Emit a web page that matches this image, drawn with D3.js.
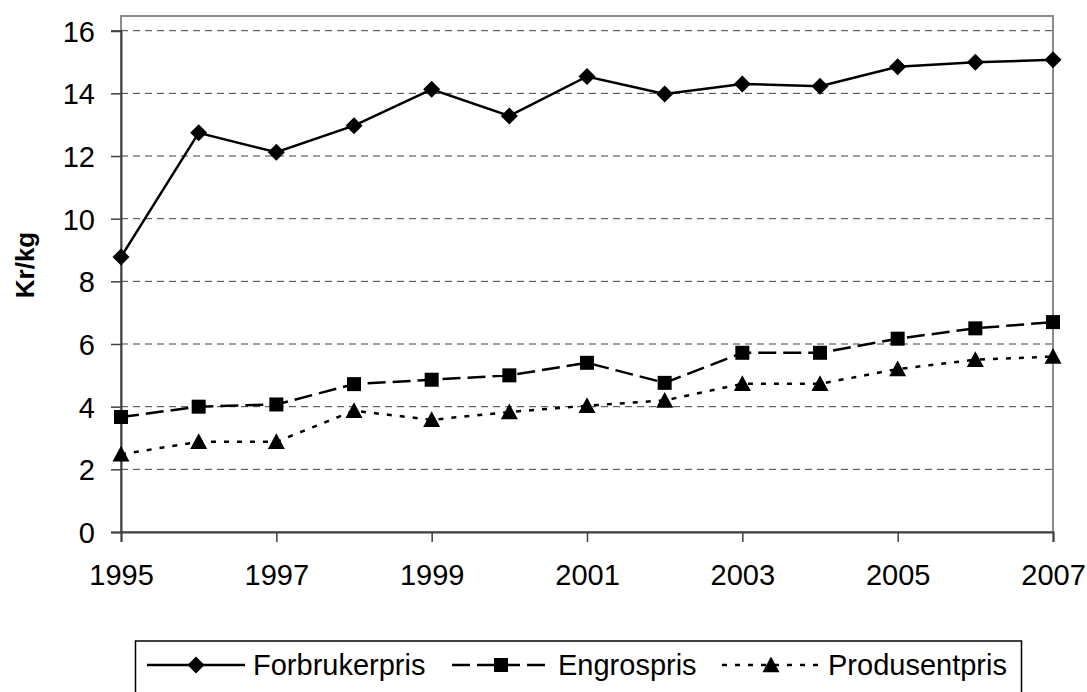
<!DOCTYPE html>
<html>
<head>
<meta charset="utf-8">
<script src="https://cdn.jsdelivr.net/npm/d3@7"></script>
<style>
  html, body { margin: 0; padding: 0; background: #fff; }
  svg { display: block; font-family: "Liberation Sans", Arial, sans-serif; }
</style>
</head>
<body>
<svg id="chart" width="1087" height="692"></svg>
<script>
const years = [1995,1996,1997,1998,1999,2000,2001,2002,2003,2004,2005,2006,2007];
const xTickLabels = [1995,1997,1999,2001,2003,2005,2007];
const yTickLabels = [0,2,4,6,8,10,12,14,16];
const forbrukerpris = [8.78,12.74,12.12,12.97,14.13,13.28,14.54,13.98,14.3,14.23,14.85,14.99,15.07];
const engrospris = [3.67,4.0,4.07,4.72,4.86,5.0,5.4,4.76,5.72,5.72,6.17,6.5,6.7];
const produsentpris = [2.48,2.88,2.88,3.87,3.58,3.83,4.03,4.2,4.73,4.73,5.2,5.5,5.6];
const seriesNames = ["Forbrukerpris","Engrospris","Produsentpris"];

const svg = d3.select("#chart");
const L = 121, R = 1053, T = 16, B = 532;
const x = d3.scaleLinear().domain([1995, 2007]).range([L, R]);
const y = d3.scaleLinear().domain([0, 16]).range([B, 30.7]);

// plot area frame
svg.append("rect").attr("x", L).attr("y", T).attr("width", R - L).attr("height", B - T)
  .attr("fill", "none").attr("stroke", "#8c8c8c").attr("stroke-width", 2);

// gridlines
svg.append("g").selectAll("line").data(yTickLabels.filter(d => d > 0)).join("line")
  .attr("x1", L).attr("x2", R).attr("y1", d => y(d)).attr("y2", d => y(d))
  .attr("stroke", "#404040").attr("stroke-width", 1).attr("stroke-dasharray", "7,5");

// y axis
const yAxis = d3.axisLeft(y).tickValues(yTickLabels).tickSize(10).tickPadding(16).tickFormat(d3.format("d"));
const gy = svg.append("g").attr("transform", `translate(${L},0)`).call(yAxis);
gy.select(".domain").attr("stroke", "#404040").attr("stroke-width", 2);
gy.selectAll(".tick line").attr("stroke", "#404040").attr("stroke-width", 1.5);
gy.selectAll(".tick text").attr("font-size", 29).attr("fill", "#000")
  .attr("font-family", "Liberation Sans, Arial, sans-serif").attr("dy", "0.36em");

// x axis
const xAxis = d3.axisBottom(x).tickValues(xTickLabels).tickSize(10).tickPadding(22).tickFormat(d3.format("d"));
const gx = svg.append("g").attr("transform", `translate(0,${B})`).call(xAxis);
gx.select(".domain").attr("stroke", "#404040").attr("stroke-width", 2);
gx.selectAll(".tick line").attr("stroke", "#404040").attr("stroke-width", 1.5);
gx.selectAll(".tick text").attr("font-size", 29).attr("fill", "#000")
  .attr("font-family", "Liberation Sans, Arial, sans-serif");

// y label
svg.append("text").attr("transform", "translate(34,265) rotate(-90)")
  .attr("text-anchor", "middle").attr("font-size", 26).attr("font-weight", "bold")
  .text("Kr/kg");

const line = d3.line().x((d, i) => x(years[i])).y(d => y(d));

function diamond(g, cx, cy, s) {
  g.append("path").attr("d", `M${cx},${cy - s}L${cx + s},${cy}L${cx},${cy + s}L${cx - s},${cy}Z`).attr("fill", "#000");
}
function square(g, cx, cy, s) {
  g.append("rect").attr("x", cx - s).attr("y", cy - s).attr("width", 2 * s).attr("height", 2 * s).attr("fill", "#000");
}
function triangle(g, cx, cy, s) {
  g.append("path").attr("d", `M${cx},${cy - s}L${cx + s},${cy + s * 0.85}L${cx - s},${cy + s * 0.85}Z`).attr("fill", "#000");
}

const series = [
  { data: forbrukerpris, dash: null, marker: diamond, size: 8.5 },
  { data: engrospris, dash: "18,7", marker: square, size: 7 },
  { data: produsentpris, dash: "5,8", marker: triangle, size: 8.5 }
];

series.forEach(s => {
  const p = svg.append("path").datum(s.data).attr("d", line)
    .attr("fill", "none").attr("stroke", "#000").attr("stroke-width", 2.5);
  if (s.dash) p.attr("stroke-dasharray", s.dash);
  const g = svg.append("g");
  s.data.forEach((v, i) => s.marker(g, x(years[i]), y(v), s.size));
});

// legend
const lg = svg.append("g");
lg.append("rect").attr("x", 135.5).attr("y", 641).attr("width", 886).attr("height", 60)
  .attr("fill", "none").attr("stroke", "#000").attr("stroke-width", 1.5);
const legendX = [147, 452, 722];
const ly = 665;
seriesNames.forEach((name, i) => {
  const s = series[i];
  const x0 = legendX[i];
  const ln = lg.append("line").attr("x1", x0).attr("x2", x0 + 98).attr("y1", ly).attr("y2", ly)
    .attr("stroke", "#000").attr("stroke-width", 2.5);
  if (s.dash) ln.attr("stroke-dasharray", s.dash);
  s.marker(lg, x0 + 49, ly, s.size);
  lg.append("text").attr("x", x0 + 106).attr("y", ly).attr("dy", "0.36em")
    .attr("font-size", 29).text(name);
});
</script>
</body>
</html>
